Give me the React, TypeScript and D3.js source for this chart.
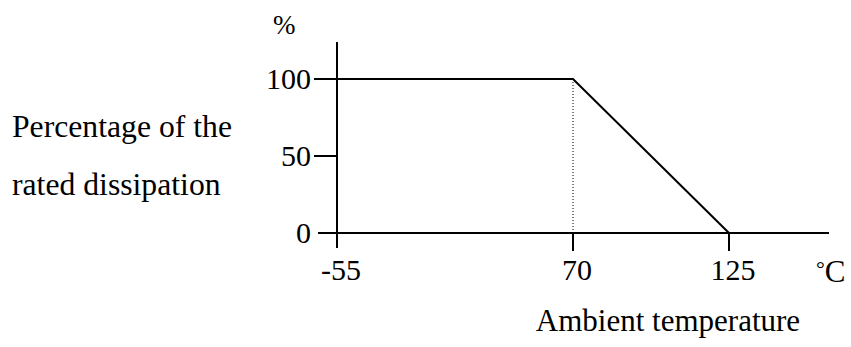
import React, { useEffect } from "react";
import * as d3 from "d3";

// Data (schematic derating curve)
const temps = [-55, 70, 125];
const percent = [100, 100, 0];
const yTicks = [0, 50, 100];
const xTickLabels = ["-55", "70", "125"];
const knee = 70;

const W = 851;
const H = 347;
const FONT = "'Liberation Serif', 'Times New Roman', serif";

export default function App() {
  useEffect(() => {
    document.body.style.margin = "0";
  }, []);

  // piecewise (schematic) scale as in the original drawing
  const x = d3.scaleLinear().domain(temps).range([337, 573, 729]);
  const y = d3.scaleLinear().domain([0, 100]).range([233, 79]);

  const pts = temps.map((t, i) => [x(t), y(percent[i])] as [number, number]);
  const line = d3.line()(pts) || "";

  return (
    <svg width={W} height={H} style={{ display: "block", position: "absolute", left: 0, top: 0, background: "#fff" }}>
      <g fill="#000" fontFamily={FONT} fontSize={30}>
        {/* axes */}
        <line x1={x(-55)} x2={x(-55)} y1={42} y2={248} stroke="#000" strokeWidth={2} />
        <line x1={318} x2={829} y1={y(0)} y2={y(0)} stroke="#000" strokeWidth={2} />
        {/* y ticks */}
        {yTicks.map((v) => (
          <g key={v}>
            {v > 0 && <line x1={314} x2={x(-55)} y1={y(v)} y2={y(v)} stroke="#000" strokeWidth={2} />}
            <text x={311} y={y(v) + 10} textAnchor="end">{v}</text>
          </g>
        ))}
        {/* x ticks */}
        {temps.map((t, i) => (
          <g key={t}>
            {i > 0 && <line x1={x(t)} x2={x(t)} y1={y(0)} y2={251} stroke="#000" strokeWidth={2} />}
            <text x={x(t) + 4} y={280} textAnchor="middle">{xTickLabels[i]}</text>
          </g>
        ))}
        {/* dotted guide at knee */}
        <line x1={x(knee)} x2={x(knee)} y1={y(100)} y2={y(0)} stroke="#000" strokeWidth={1} strokeDasharray="1,2" />
        {/* derating curve */}
        <path d={line} fill="none" stroke="#000" strokeWidth={2} />
        {/* labels */}
        <text x={273} y={34} fontSize={27}>%</text>
        <text x={816} y={282} fontSize={31}>
          <tspan fontSize={22} dy={-6}>°</tspan>
          <tspan dy={6}>C</tspan>
        </text>
        <text x={12} y={137} fontSize={31.7}>Percentage of the</text>
        <text x={12} y={195} fontSize={31.7}>rated dissipation</text>
        <text x={668} y={331} textAnchor="middle" fontSize={31}>Ambient temperature</text>
      </g>
    </svg>
  );
}
